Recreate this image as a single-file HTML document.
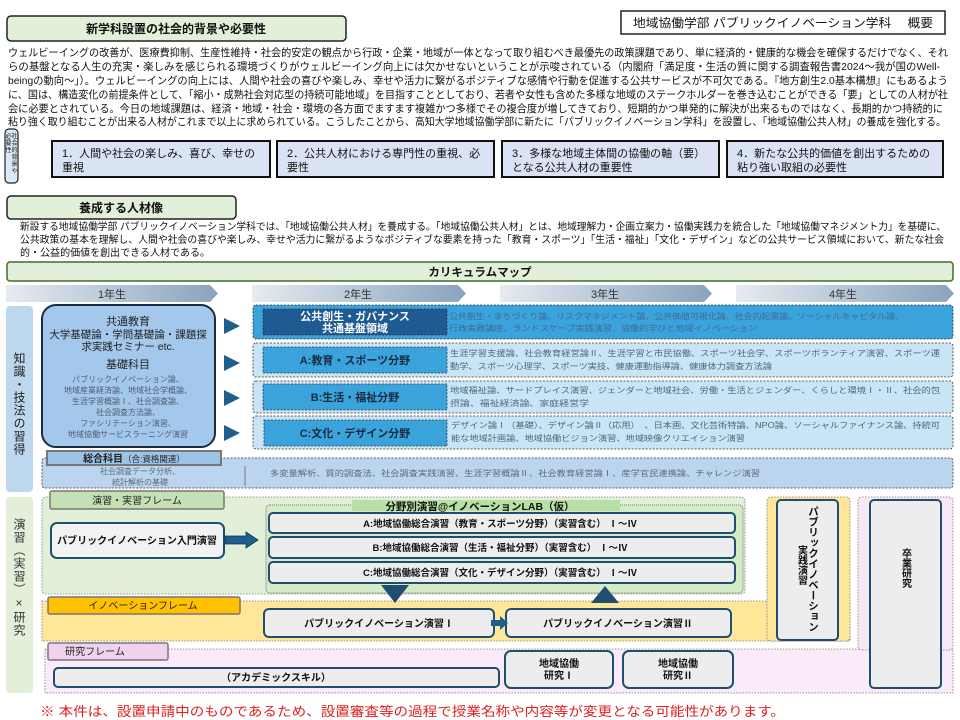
<!DOCTYPE html>
<html><head><meta charset="utf-8"><style>
html,body{margin:0;padding:0;background:#fff;}
svg{display:block;font-family:"Liberation Sans","Noto Sans CJK JP",sans-serif;}
</style></head><body>
<svg width="960" height="720" viewBox="0 0 960 720" xmlns="http://www.w3.org/2000/svg">
<defs>
<linearGradient id="yr" x1="0" x2="1" y1="0" y2="0"><stop offset="0" stop-color="#e6ebf0"/><stop offset="1" stop-color="#8aa3bd"/></linearGradient>
</defs>
<rect x="7" y="16" width="339" height="25" rx="4" fill="#e2f0d9" stroke="#222" stroke-width="1.5"/>
<text x="176" y="33" font-size="12" font-weight="bold" text-anchor="middle" fill="#111">新学科設置の社会的背景や必要性</text>
<rect x="621" y="11" width="324" height="23" fill="#fff" stroke="#222" stroke-width="1.5"/>
<text x="783" y="27" font-size="12" text-anchor="middle" fill="#111" textLength="300" lengthAdjust="spacingAndGlyphs">地域協働学部 パブリックイノベーション学科　 概要</text>
<g font-size="10.5" fill="#111">
<text x="8" y="56" textLength="940" lengthAdjust="spacingAndGlyphs">ウェルビーイングの改善が、医療費抑制、生産性維持・社会的安定の観点から行政・企業・地域が一体となって取り組むべき最優先の政策課題であり、単に経済的・健康的な機会を確保するだけでなく、それ</text>
<text x="8" y="70" textLength="932" lengthAdjust="spacingAndGlyphs">らの基盤となる人生の充実・楽しみを感じられる環境づくりがウェルビーイング向上には欠かせないということが示唆されている（内閣府「満足度・生活の質に関する調査報告書2024～我が国のWell-</text>
<text x="8" y="84" textLength="940" lengthAdjust="spacingAndGlyphs">beingの動向～」）。ウェルビーイングの向上には、人間や社会の喜びや楽しみ、幸せや活力に繋がるポジティブな感情や行動を促進する公共サービスが不可欠である。『地方創生2.0基本構想』にもあるよう</text>
<text x="8" y="98" textLength="940" lengthAdjust="spacingAndGlyphs">に、国は、構造変化の前提条件として、「縮小・成熟社会対応型の持続可能地域」を目指すこととしており、若者や女性も含めた多様な地域のステークホルダーを巻き込むことができる「要」としての人材が社</text>
<text x="8" y="112" textLength="935" lengthAdjust="spacingAndGlyphs">会に必要とされている。今日の地域課題は、経済・地域・社会・環境の各方面でますます複雑かつ多様でその複合度が増してきており、短期的かつ単発的に解決が出来るものではなく、長期的かつ持続的に</text>
<text x="8" y="125" textLength="938" lengthAdjust="spacingAndGlyphs">粘り強く取り組むことが出来る人材がこれまで以上に求められている。こうしたことから、高知大学地域協働学部に新たに「パブリックイノベーション学科」を設置し、「地域協働公共人材」の養成を強化する。</text>
</g>
<rect x="5" y="129" width="13" height="54" rx="4" fill="#dae8f7" stroke="#222" stroke-width="1.2"/>
<g font-size="6" fill="#111" text-anchor="middle">
<text x="14.5" y="138">社</text><text x="14.5" y="145">会</text><text x="14.5" y="152">的</text><text x="14.5" y="159">背</text><text x="14.5" y="166">景</text><text x="14.5" y="173">や</text>
<text x="8.5" y="138">必</text><text x="8.5" y="145">要</text><text x="8.5" y="152">性</text>
</g>
<g stroke="#111" stroke-width="2" fill="#dae3f3">
<rect x="52" y="141" width="218" height="36"/>
<rect x="277" y="141" width="217" height="36"/>
<rect x="502" y="141" width="217" height="36"/>
<rect x="727" y="141" width="216" height="36"/>
</g>
<g font-size="11" fill="#111">
<text x="62" y="157">1．人間や社会の楽しみ、喜び、幸せの</text><text x="62" y="171">重視</text>
<text x="287" y="157">2．公共人材における専門性の重視、必</text><text x="287" y="171">要性</text>
<text x="512" y="157">3．多様な地域主体間の協働の軸（要）</text><text x="512" y="171">となる公共人材の重要性</text>
<text x="737" y="157">4．新たな公共的価値を創出するための</text><text x="737" y="171">粘り強い取組の必要性</text>
</g>
<rect x="7" y="196" width="229" height="23" rx="4" fill="#e2f0d9" stroke="#222" stroke-width="1.5"/>
<text x="121" y="212" font-size="12" font-weight="bold" text-anchor="middle" fill="#111">養成する人材像</text>
<g font-size="10" fill="#111">
<text x="20" y="230" textLength="926" lengthAdjust="spacingAndGlyphs">新設する地域協働学部 パブリックイノベーション学科では、「地域協働公共人材」を養成する。「地域協働公共人材」とは、地域理解力・企画立案力・協働実践力を統合した「地域協働マネジメント力」を基礎に、</text>
<text x="20" y="243" textLength="924" lengthAdjust="spacingAndGlyphs">公共政策の基本を理解し、人間や社会の喜びや楽しみ、幸せや活力に繋がるようなポジティブな要素を持った「教育・スポーツ」「生活・福祉」「文化・デザイン」などの公共サービス領域において、新たな社会</text>
<text x="20" y="256" textLength="190" lengthAdjust="spacingAndGlyphs">的・公益的価値を創出できる人材である。</text>
</g>
<rect x="7" y="262" width="946" height="19" rx="3" fill="#e2f0d9" stroke="#3e6b2a" stroke-width="1.5"/>
<text x="480" y="276" font-size="11.5" font-weight="bold" text-anchor="middle" fill="#111">カリキュラムマップ</text>
<g fill="url(#yr)">
<polygon points="6,285 210,285 218,293.5 210,302 6,302"/>
<polygon points="252,285 458,285 466,293.5 458,302 252,302"/>
<polygon points="500,285 704,285 712,293.5 704,302 500,302"/>
<polygon points="736,285 946,285 954,293.5 946,302 736,302"/>
</g>
<g font-size="11" fill="#333" text-anchor="middle">
<text x="112" y="298">1年生</text><text x="358" y="298">2年生</text><text x="605" y="298">3年生</text><text x="843" y="298">4年生</text>
</g>
<rect x="6" y="306" width="27" height="186" rx="4" fill="#bdd7ee"/>
<text x="19" y="352" font-size="12" writing-mode="tb" fill="#222" letter-spacing="1">知識・技法の習得</text>
<rect x="42" y="458" width="911" height="30" fill="#bcd5ee" stroke="#333" stroke-width="0.8" stroke-dasharray="2,1.5" rx="3"/>
<line x1="245" y1="466" x2="245" y2="486" stroke="#555" stroke-width="0.7"/>
<rect x="42" y="305" width="173" height="142" rx="14" fill="#a4c8ec" stroke="#1a2b40" stroke-width="2"/>
<rect x="47" y="451" width="174" height="14" fill="#9dc3e6" stroke="#777" stroke-width="2"/>
<text x="134" y="462" font-size="10" font-weight="bold" text-anchor="middle" fill="#222">総合科目<tspan font-size="8.5" font-weight="normal">（合:資格関連）</tspan></text>
<g font-size="8" fill="#5a6b80" text-anchor="middle">
<text x="140" y="474">社会調査データ分析、</text><text x="140" y="485">統計解析の基礎</text>
</g>
<text x="270" y="476" font-size="8" fill="#5a6b80" textLength="490" lengthAdjust="spacingAndGlyphs">多変量解析、質的調査法、社会調査実践演習、生涯学習概論Ⅱ、社会教育経営論Ⅰ、産学官民連携論、チャレンジ演習</text>
<g text-anchor="middle" fill="#222">
<text x="128" y="325" font-size="11">共通教育</text>
<text x="128" y="338" font-size="10.5">大学基礎論・学問基礎論・課題探</text>
<text x="128" y="350" font-size="10.5">求実践セミナー etc.</text>
<text x="128" y="368" font-size="11">基礎科目</text>
</g>
<g font-size="8" fill="#4e5f74" text-anchor="middle">
<text x="128" y="382">パブリックイノベーション論、</text>
<text x="128" y="393">地域産業経済論、地域社会学概論、</text>
<text x="128" y="404">生涯学習概論Ⅰ、社会調査論、</text>
<text x="128" y="415">社会調査方法論、</text>
<text x="128" y="426">ファシリテーション演習、</text>
<text x="128" y="437">地域協働サービスラーニング演習</text>
</g>
<g fill="#1f5f8b">
<polygon points="224,318 240,326 224,334"/>
<polygon points="224,355 240,363 224,371"/>
<polygon points="224,390 240,398 224,406"/>
<polygon points="224,425 240,433 224,441"/>
</g>
<g stroke="#333" stroke-width="0.8" stroke-dasharray="2,1.5">
<rect x="253" y="305" width="700" height="34" rx="3" fill="#3aa3dc"/>
<rect x="253" y="343" width="700" height="34" rx="3" fill="#c9e4f5"/>
<rect x="253" y="381" width="700" height="32" rx="3" fill="#c9e4f5"/>
<rect x="253" y="416" width="700" height="33" rx="3" fill="#c9e4f5"/>
<rect x="263" y="309" width="184" height="26" fill="#1f5a93"/>
<rect x="263" y="347" width="184" height="26" fill="#3aa3dc"/>
<rect x="263" y="384" width="184" height="26" fill="#3aa3dc"/>
<rect x="264" y="420" width="183" height="26" fill="#3aa3dc"/>
</g>
<g text-anchor="middle" font-size="11" font-weight="bold">
<text x="355" y="320" fill="#fff">公共創生・ガバナンス</text>
<text x="355" y="332" fill="#fff">共通基盤領域</text>
<text x="355" y="364" fill="#1a2b40">A:教育・スポーツ分野</text>
<text x="355" y="401" fill="#1a2b40">B:生活・福祉分野</text>
<text x="355" y="437" fill="#1a2b40">C:文化・デザイン分野</text>
</g>
<g font-size="8" fill="#4e6684">
<text x="449" y="319" textLength="455" lengthAdjust="spacingAndGlyphs" fill="#3d6b97">公共創生・まちづくり論、リスクマネジメント論、公共価値可視化論、社会的起業論、ソーシャルキャピタル論、</text>
<text x="449" y="331" textLength="308" lengthAdjust="spacingAndGlyphs" fill="#3d6b97">行政実務講座、ランドスケープ実践演習、協働的学びと地域イノベーション</text>
<text x="450" y="356" textLength="490" lengthAdjust="spacingAndGlyphs">生涯学習支援論、社会教育経営論Ⅱ、生涯学習と市民協働、スポーツ社会学、スポーツボランティア演習、スポーツ運</text>
<text x="450" y="369" textLength="322" lengthAdjust="spacingAndGlyphs">動学、スポーツ心理学、スポーツ実技、健康運動指導論、健康体力調査方法論</text>
<text x="450" y="393" textLength="490" lengthAdjust="spacingAndGlyphs">地域福祉論、サードプレイス演習、ジェンダーと地域社会、労働・生活とジェンダー、くらしと環境Ⅰ・Ⅱ、社会的包</text>
<text x="450" y="406" textLength="139" lengthAdjust="spacingAndGlyphs">摂論、福祉経済論、家庭経営学</text>
<text x="451" y="428" textLength="489" lengthAdjust="spacingAndGlyphs">デザイン論Ⅰ（基礎）、デザイン論Ⅱ（応用）　、日本画、文化芸術特論、NPO論、ソーシャルファイナンス論、持続可</text>
<text x="451" y="441" textLength="294" lengthAdjust="spacingAndGlyphs">能な地域計画論、地域協働ビジョン演習、地域映像クリエイション演習</text>
</g>
<rect x="6" y="497" width="27" height="196" rx="4" fill="#e2f0d9"/>
<text x="19" y="518" font-size="12" writing-mode="tb" fill="#333" letter-spacing="1">演習（実習）×研究</text>
<rect x="45" y="649" width="908" height="44" fill="#fbeaf8" stroke="#777" stroke-width="0.8" stroke-dasharray="1.5,1.5"/>
<rect x="858" y="497" width="95" height="153" rx="4" fill="#f8e8f6" stroke="#777" stroke-width="0.8" stroke-dasharray="1.5,1.5"/>
<rect x="42" y="601" width="808" height="40" fill="#ffe699" stroke="#777" stroke-width="0.8" stroke-dasharray="1.5,1.5"/>
<rect x="767" y="497" width="83" height="144" rx="4" fill="#ffe699" stroke="#777" stroke-width="0.8" stroke-dasharray="1.5,1.5"/>
<rect x="42" y="497" width="703" height="97" rx="4" fill="#e2f0d9" stroke="#777" stroke-width="0.8" stroke-dasharray="1.5,1.5"/>
<rect x="266" y="505" width="477" height="88" rx="4" fill="#d3ebc6" stroke="#555" stroke-width="0.8" stroke-dasharray="1,1"/>
<rect x="352" y="500" width="268" height="11" fill="#b8dfa6"/>
<text x="480" y="510" font-size="10.5" font-weight="bold" text-anchor="middle" fill="#111">分野別演習@イノベーションLAB（仮）</text>
<rect x="50" y="491" width="174" height="18" rx="2" fill="#c5e0b4" stroke="#777" stroke-width="1.5"/>
<text x="137" y="504" font-size="10" text-anchor="middle" fill="#222">演習・実習フレーム</text>
<rect x="51" y="523" width="173" height="35" rx="6" fill="#f2f2f2" stroke="#1f4e6e" stroke-width="2"/>
<text x="137" y="544" font-size="10" font-weight="bold" text-anchor="middle" fill="#111">パブリックイノベーション入門演習</text>
<polygon points="225,536 246,536 246,532 258,540 246,548 246,544 225,544" fill="#1f5f8b" stroke="#0d3350" stroke-width="0.8"/>
<g fill="#ededed" stroke="#1f4e6e" stroke-width="2">
<rect x="269" y="513" width="466" height="20" rx="4"/>
<rect x="269" y="537" width="466" height="21" rx="4"/>
<rect x="269" y="562" width="466" height="21" rx="4"/>
</g>
<g font-size="9.5" font-weight="bold" text-anchor="middle" fill="#111">
<text x="500" y="527">A:地域協働総合演習（教育・スポーツ分野）（実習含む） Ⅰ～Ⅳ</text>
<text x="500" y="551">B:地域協働総合演習（生活・福祉分野）（実習含む） Ⅰ～Ⅳ</text>
<text x="500" y="576">C:地域協働総合演習（文化・デザイン分野）（実習含む） Ⅰ～Ⅳ</text>
</g>
<polygon points="381,585 409,585 395,603" fill="#1f4e6e"/>
<polygon points="591,603 619,603 605,586" fill="#1f4e6e"/>
<rect x="48" y="597" width="192" height="17" rx="2" fill="#ffc000" stroke="#777" stroke-width="1.5"/>
<text x="143" y="609" font-size="10" text-anchor="middle" fill="#222">イノベーションフレーム</text>
<rect x="264" y="609" width="230" height="28" rx="5" fill="#ededed" stroke="#1f4e6e" stroke-width="2"/>
<text x="379" y="627" font-size="10" font-weight="bold" text-anchor="middle" fill="#111">パブリックイノベーション演習Ⅰ</text>
<rect x="506" y="609" width="225" height="28" rx="5" fill="#ededed" stroke="#1f4e6e" stroke-width="2"/>
<text x="618" y="627" font-size="10" font-weight="bold" text-anchor="middle" fill="#111">パブリックイノベーション演習Ⅱ</text>
<polygon points="491,620 500,620 500,616 508,623 500,630 500,626 491,626" fill="#1f5f8b"/>
<rect x="777" y="500" width="61" height="140" rx="4" fill="#ededed" stroke="#1f4e6e" stroke-width="2"/>
<text x="813" y="506" font-size="10.5" font-weight="bold" writing-mode="tb" fill="#111">パブリックイノベーション</text>
<text x="801" y="545" font-size="10" font-weight="bold" writing-mode="tb" fill="#111">実践演習</text>
<rect x="870" y="500" width="71" height="188" rx="4" fill="#ededed" stroke="#1f4e6e" stroke-width="2"/>
<text x="905" y="548" font-size="10" font-weight="bold" writing-mode="tb" fill="#111">卒業研究</text>
<rect x="48" y="643" width="120" height="17" rx="2" fill="#f0d2ee" stroke="#777" stroke-width="1.5"/>
<text x="95" y="655" font-size="10" text-anchor="middle" fill="#222">研究フレーム</text>
<rect x="54" y="668" width="445" height="19" rx="4" fill="#ededed" stroke="#1f4e6e" stroke-width="2"/>
<text x="276" y="681" font-size="10" font-weight="bold" text-anchor="middle" fill="#111">（アカデミックスキル）</text>
<rect x="505" y="651" width="108" height="37" rx="6" fill="#ededed" stroke="#1f4e6e" stroke-width="2"/>
<text x="559" y="667" font-size="10" font-weight="bold" text-anchor="middle" fill="#111">地域協働</text>
<text x="559" y="679" font-size="10" font-weight="bold" text-anchor="middle" fill="#111">研究Ⅰ</text>
<rect x="623" y="651" width="110" height="37" rx="6" fill="#ededed" stroke="#1f4e6e" stroke-width="2"/>
<text x="678" y="667" font-size="10" font-weight="bold" text-anchor="middle" fill="#111">地域協働</text>
<text x="678" y="679" font-size="10" font-weight="bold" text-anchor="middle" fill="#111">研究Ⅱ</text>
<text x="40" y="716" font-size="13" fill="#e02020" textLength="745" lengthAdjust="spacingAndGlyphs">※ 本件は、設置申請中のものであるため、設置審査等の過程で授業名称や内容等が変更となる可能性があります。</text>
</svg>
</body></html>
